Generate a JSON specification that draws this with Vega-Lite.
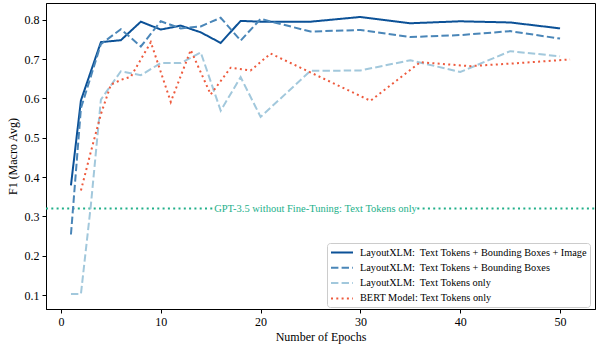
{
  "$schema": "https://vega.github.io/schema/vega-lite/v6.json",
  "width": 549,
  "height": 306,
  "autosize": {"type": "none"},
  "padding": {"left": 46, "top": 3, "right": 3, "bottom": 38},
  "background": "white",
  "config": {
    "font": "Liberation Serif",
    "view": {"stroke": "#000", "strokeWidth": 1},
    "legend": {"labelFont": "Liberation Serif"},
    "axis": {
      "labelFont": "Liberation Serif",
      "titleFont": "Liberation Serif",
      "labelFontSize": 12,
      "titleFontSize": 12,
      "titleFontWeight": "normal",
      "labelColor": "#000",
      "titleColor": "#000",
      "domainColor": "#000",
      "tickColor": "#000",
      "tickSize": 4,
      "grid": false,
      "labelPadding": 3
    }
  },
  "datasets": {
    "runs": [
      {"series": "s1", "epoch": 1, "f1": 0.379},
      {"series": "s1", "epoch": 2, "f1": 0.595},
      {"series": "s1", "epoch": 4, "f1": 0.743},
      {"series": "s1", "epoch": 6, "f1": 0.748},
      {"series": "s1", "epoch": 8, "f1": 0.795},
      {"series": "s1", "epoch": 10, "f1": 0.775},
      {"series": "s1", "epoch": 12, "f1": 0.785},
      {"series": "s1", "epoch": 14, "f1": 0.768},
      {"series": "s1", "epoch": 16, "f1": 0.741},
      {"series": "s1", "epoch": 18, "f1": 0.797},
      {"series": "s1", "epoch": 20, "f1": 0.795},
      {"series": "s1", "epoch": 25, "f1": 0.795},
      {"series": "s1", "epoch": 30, "f1": 0.807},
      {"series": "s1", "epoch": 35, "f1": 0.791},
      {"series": "s1", "epoch": 40, "f1": 0.796},
      {"series": "s1", "epoch": 45, "f1": 0.793},
      {"series": "s1", "epoch": 50, "f1": 0.778},
      {"series": "s2", "epoch": 1, "f1": 0.254},
      {"series": "s2", "epoch": 2, "f1": 0.575},
      {"series": "s2", "epoch": 4, "f1": 0.738},
      {"series": "s2", "epoch": 6, "f1": 0.776},
      {"series": "s2", "epoch": 8, "f1": 0.732},
      {"series": "s2", "epoch": 10, "f1": 0.796},
      {"series": "s2", "epoch": 12, "f1": 0.778},
      {"series": "s2", "epoch": 14, "f1": 0.783},
      {"series": "s2", "epoch": 16, "f1": 0.805},
      {"series": "s2", "epoch": 18, "f1": 0.747},
      {"series": "s2", "epoch": 20, "f1": 0.802},
      {"series": "s2", "epoch": 25, "f1": 0.77},
      {"series": "s2", "epoch": 30, "f1": 0.774},
      {"series": "s2", "epoch": 35, "f1": 0.756},
      {"series": "s2", "epoch": 40, "f1": 0.761},
      {"series": "s2", "epoch": 45, "f1": 0.771},
      {"series": "s2", "epoch": 50, "f1": 0.752},
      {"series": "s3", "epoch": 1, "f1": 0.103},
      {"series": "s3", "epoch": 2, "f1": 0.103},
      {"series": "s3", "epoch": 3, "f1": 0.33},
      {"series": "s3", "epoch": 4, "f1": 0.597},
      {"series": "s3", "epoch": 6, "f1": 0.669},
      {"series": "s3", "epoch": 8, "f1": 0.659},
      {"series": "s3", "epoch": 10, "f1": 0.69},
      {"series": "s3", "epoch": 12, "f1": 0.69},
      {"series": "s3", "epoch": 14, "f1": 0.717},
      {"series": "s3", "epoch": 16, "f1": 0.569},
      {"series": "s3", "epoch": 18, "f1": 0.654},
      {"series": "s3", "epoch": 20, "f1": 0.553},
      {"series": "s3", "epoch": 25, "f1": 0.67},
      {"series": "s3", "epoch": 30, "f1": 0.671},
      {"series": "s3", "epoch": 35, "f1": 0.697},
      {"series": "s3", "epoch": 40, "f1": 0.667},
      {"series": "s3", "epoch": 45, "f1": 0.72},
      {"series": "s3", "epoch": 50, "f1": 0.707},
      {"series": "s4", "epoch": 2, "f1": 0.366},
      {"series": "s4", "epoch": 3, "f1": 0.465},
      {"series": "s4", "epoch": 4, "f1": 0.56},
      {"series": "s4", "epoch": 5, "f1": 0.635},
      {"series": "s4", "epoch": 6, "f1": 0.647},
      {"series": "s4", "epoch": 7, "f1": 0.655},
      {"series": "s4", "epoch": 9, "f1": 0.743},
      {"series": "s4", "epoch": 11, "f1": 0.591},
      {"series": "s4", "epoch": 13, "f1": 0.723},
      {"series": "s4", "epoch": 15, "f1": 0.61},
      {"series": "s4", "epoch": 17, "f1": 0.678},
      {"series": "s4", "epoch": 19, "f1": 0.671},
      {"series": "s4", "epoch": 21, "f1": 0.714},
      {"series": "s4", "epoch": 31, "f1": 0.594},
      {"series": "s4", "epoch": 36, "f1": 0.692},
      {"series": "s4", "epoch": 41, "f1": 0.682},
      {"series": "s4", "epoch": 46, "f1": 0.69},
      {"series": "s4", "epoch": 51, "f1": 0.699}
    ],
    "baseline": [
      {"start": -1.5, "end": 15.4, "f1": 0.32},
      {"start": 35.7, "end": 53.5, "f1": 0.32}
    ]
  },
  "layer": [
    {
      "data": {"name": "baseline"},
      "mark": {"type": "rule", "color": "#22b08a", "strokeWidth": 2, "strokeDash": [2, 3.3]},
      "encoding": {
        "x": {"field": "start", "type": "quantitative"},
        "x2": {"field": "end"},
        "y": {"field": "f1", "type": "quantitative"}
      }
    },
    {
      "data": {"values": [{"label": "GPT-3.5 without Fine-Tuning: Text Tokens only", "epoch": 25.5, "f1": 0.32}]},
      "mark": {"type": "text", "color": "#22b08a", "fontSize": 10.5, "font": "Liberation Serif", "align": "center", "baseline": "middle"},
      "encoding": {
        "x": {"field": "epoch", "type": "quantitative"},
        "y": {"field": "f1", "type": "quantitative"},
        "text": {"field": "label"}
      }
    },
    {
      "data": {"name": "runs"},
      "mark": {"type": "line", "strokeWidth": 2, "clip": true},
      "encoding": {
        "x": {
          "field": "epoch", "type": "quantitative",
          "scale": {"domain": [-1.5, 53.5], "nice": false, "zero": false},
          "axis": {"values": [0, 10, 20, 30, 40, 50], "title": "Number of Epochs", "titlePadding": 4, "labelFont": "Liberation Serif", "titleFont": "Liberation Serif"}
        },
        "y": {
          "field": "f1", "type": "quantitative",
          "scale": {"domain": [0.0647, 0.8425], "nice": false, "zero": false},
          "axis": {"values": [0.1, 0.2, 0.3, 0.4, 0.5, 0.6, 0.7, 0.8], "format": ".1f", "title": "F1 (Macro Avg)", "titlePadding": 5, "labelFont": "Liberation Serif", "titleFont": "Liberation Serif"}
        },
        "color": {
          "field": "series", "type": "nominal",
          "scale": {
            "domain": ["s1", "s2", "s3", "s4"],
            "range": ["#0b5197", "#4a86b8", "#a2c8dc", "#ee5a3d"]
          },
          "legend": {
            "title": null,
            "orient": "none",
            "legendX": 281,
            "legendY": 240,
            "fillColor": "white",
            "strokeColor": "#cccccc",
            "cornerRadius": 3,
            "padding": 3,
            "rowPadding": 3.3,
            "labelFont": "Liberation Serif",
            "labelFontSize": 10.3,
            "labelColor": "#000",
            "labelLimit": 400,
            "labelOffset": 17,
            "symbolSize": 121,
            "symbolStrokeWidth": 2,
            "symbolType": "M-1,0H3",
            "labelExpr": "{'s1': 'LayoutXLM:\u00a0 Text Tokens + Bounding Boxes + Image', 's2': 'LayoutXLM:\u00a0 Text Tokens + Bounding Boxes', 's3': 'LayoutXLM:\u00a0 Text Tokens only', 's4': 'BERT Model: Text Tokens only'}[datum.value]"
          }
        },
        "strokeDash": {
          "field": "series", "type": "nominal",
          "scale": {
            "domain": ["s1", "s2", "s3", "s4"],
            "range": [[1, 0], [7.4, 3.2], [7.4, 3.2], [2, 3.3]]
          },
          "legend": null
        }
      }
    }
  ]
}
